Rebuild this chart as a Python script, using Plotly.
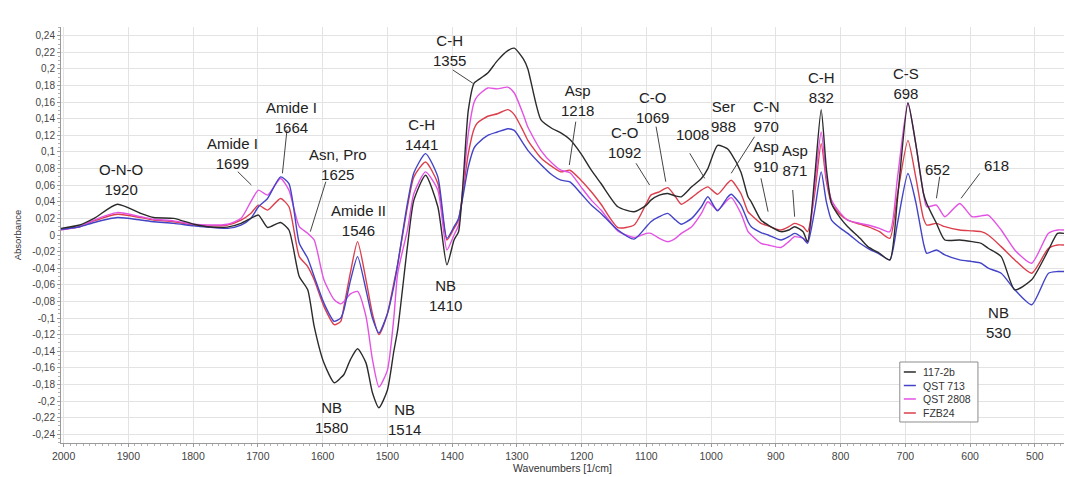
import plotly.graph_objects as go

# ---------------- data ----------------
wavenumber = [2004, 1975, 1953, 1917, 1881, 1861, 1830, 1799, 1778, 1747,
              1726, 1711, 1699, 1685, 1665, 1652, 1636, 1623, 1613, 1598,
              1582, 1572, 1567, 1557, 1546, 1533, 1523, 1513, 1500, 1490,
              1484, 1469, 1459, 1441, 1422, 1408, 1397, 1390, 1375, 1366,
              1361, 1345, 1330, 1314, 1304, 1290, 1283, 1263, 1245, 1232,
              1218, 1201, 1185, 1170, 1144, 1119, 1100, 1093, 1080, 1067,
              1055, 1046, 1030, 1015, 1005, 990, 975, 969, 954, 943,
              938, 923, 912, 892, 880, 871, 858, 851, 840, 830,
              822, 814, 800, 789, 770, 758, 740, 724, 712, 696,
              684, 672, 667, 652, 639, 616, 597, 583, 572, 552,
              531, 505, 479, 465, 455]

abs_117_2b = [0.008, 0.012, 0.020, 0.037, 0.026, 0.021, 0.020, 0.013, 0.010, 0.0095,
              0.014, 0.020, 0.024, 0.009, 0.015, 0.006, -0.050, -0.066, -0.110, -0.154,
              -0.178, -0.172, -0.168, -0.150, -0.137, -0.154, -0.190, -0.208, -0.187, -0.140,
              -0.114, -0.014, 0.042, 0.072, 0.034, -0.036, -0.006, 0.004, 0.150, 0.183,
              0.186, 0.195, 0.210, 0.222, 0.225, 0.212, 0.200, 0.139, 0.128, 0.123,
              0.115, 0.098, 0.078, 0.062, 0.034, 0.028, 0.036, 0.042, 0.048, 0.050,
              0.047, 0.046, 0.058, 0.068, 0.080, 0.108, 0.104, 0.098, 0.076, 0.046,
              0.040, 0.018, 0.012, 0.004, 0.006, 0.010, 0.004, -0.008, 0.070, 0.151,
              0.080, 0.038, 0.020, 0.010, -0.004, -0.014, -0.022, -0.030, 0.045, 0.159,
              0.110, 0.050, 0.038, 0.014, -0.006, -0.006, -0.008, -0.010, -0.016, -0.026,
              -0.066, -0.054, -0.018, 0.002, 0.002]

abs_qst_713 = [0.007, 0.010, 0.015, 0.021, 0.018, 0.016, 0.014, 0.011, 0.0095, 0.008,
               0.012, 0.020, 0.034, 0.044, 0.070, 0.062, -0.010, -0.028, -0.050, -0.082,
               -0.104, -0.100, -0.090, -0.055, -0.026, -0.066, -0.100, -0.118, -0.095, -0.062,
               -0.035, 0.038, 0.075, 0.098, 0.070, -0.004, 0.010, 0.020, 0.082, 0.105,
               0.110, 0.120, 0.124, 0.128, 0.126, 0.110, 0.102, 0.085, 0.072, 0.066,
               0.064, 0.050, 0.036, 0.026, 0.006, -0.005, 0.010, 0.016, 0.022, 0.026,
               0.018, 0.013, 0.020, 0.034, 0.046, 0.029, 0.045, 0.049, 0.036, 0.016,
               0.010, 0.003, 0.000, -0.006, -0.002, 0.002, -0.004, -0.010, 0.030, 0.076,
               0.040, 0.018, 0.008, 0.002, -0.010, -0.016, -0.023, -0.030, 0.015, 0.074,
               0.040, -0.010, -0.022, -0.018, -0.024, -0.030, -0.032, -0.034, -0.040, -0.046,
               -0.066, -0.084, -0.046, -0.044, -0.044]

abs_qst_2808 = [0.006, 0.010, 0.018, 0.027, 0.022, 0.019, 0.017, 0.013, 0.012, 0.013,
                0.020, 0.040, 0.054, 0.048, 0.068, 0.054, 0.010, 0.002, -0.006, -0.054,
                -0.078, -0.083, -0.080, -0.071, -0.068, -0.098, -0.150, -0.183, -0.163, -0.100,
                -0.046, 0.006, 0.050, 0.076, 0.054, -0.018, 0.000, 0.012, 0.122, 0.160,
                0.167, 0.177, 0.176, 0.178, 0.171, 0.145, 0.130, 0.102, 0.086, 0.078,
                0.075, 0.058, 0.042, 0.030, 0.005, -0.003, 0.002, 0.002, -0.004, -0.008,
                -0.004, 0.002, 0.010, 0.026, 0.040, 0.030, 0.042, 0.045, 0.026, 0.004,
                0.000, -0.010, -0.012, -0.015, -0.008, -0.002, -0.004, -0.008, 0.060, 0.124,
                0.070, 0.042, 0.026, 0.018, 0.014, 0.012, 0.008, 0.004, 0.070, 0.159,
                0.110, 0.050, 0.034, 0.036, 0.022, 0.038, 0.022, 0.023, 0.024, 0.006,
                -0.018, -0.034, 0.002, 0.006, 0.006]

abs_fzb24 = [0.007, 0.010, 0.017, 0.025, 0.021, 0.018, 0.016, 0.012, 0.011, 0.012,
             0.018, 0.026, 0.036, 0.030, 0.044, 0.034, -0.026, -0.038, -0.054, -0.086,
             -0.108, -0.104, -0.086, -0.045, -0.008, -0.054, -0.095, -0.120, -0.095, -0.058,
             -0.035, 0.034, 0.070, 0.088, 0.062, -0.006, 0.008, 0.018, 0.098, 0.128,
             0.135, 0.143, 0.146, 0.151, 0.145, 0.125, 0.114, 0.093, 0.082, 0.076,
             0.078, 0.066, 0.052, 0.037, 0.009, 0.012, 0.038, 0.048, 0.052, 0.057,
             0.046, 0.037, 0.045, 0.054, 0.058, 0.049, 0.062, 0.066, 0.050, 0.028,
             0.024, 0.014, 0.011, 0.006, 0.010, 0.014, 0.010, 0.004, 0.050, 0.110,
             0.065, 0.038, 0.024, 0.018, 0.013, 0.010, 0.004, -0.004, 0.050, 0.114,
             0.070, 0.020, 0.012, 0.014, 0.010, 0.006, 0.005, 0.004, 0.000, -0.014,
             -0.030, -0.046, -0.016, -0.012, -0.012]

series_names = ["117-2b", "QST 713", "QST 2808", "FZB24"]

x_tick_values = [2000, 1900, 1800, 1700, 1600, 1500, 1400, 1300, 1200, 1100,
                 1000, 900, 800, 700, 600, 500]
x_tick_labels = [str(v) for v in x_tick_values]
y_tick_values = [0.24, 0.22, 0.2, 0.18, 0.16, 0.14, 0.12, 0.1, 0.08, 0.06, 0.04, 0.02, 0,
                 -0.02, -0.04, -0.06, -0.08, -0.1, -0.12, -0.14, -0.16, -0.18, -0.2, -0.22, -0.24]
y_tick_labels = ["0,24", "0,22", "0,2", "0,18", "0,16", "0,14", "0,12", "0,1", "0,08", "0,06",
                 "0,04", "0,02", "0", "-0,02", "-0,04", "-0,06", "-0,08", "-0,1", "-0,12",
                 "-0,14", "-0,16", "-0,18", "-0,2", "-0,22", "-0,24"]

# peak labels: (text, wavenumber, absorbance) for the text block centre
peak_labels = [
    ("O-N-O<br>1920", 1912, 0.0669),
    ("Amide I<br>1699", 1739, 0.0976),
    ("Amide I<br>1664", 1648, 0.1416),
    ("Asn, Pro<br>1625", 1576, 0.0855),
    ("Amide II<br>1546", 1544, 0.0175),
    ("NB<br>1580", 1587, -0.2199),
    ("NB<br>1514", 1474, -0.2217),
    ("C-H<br>1441", 1447, 0.1205),
    ("NB<br>1410", 1410, -0.0729),
    ("C-H<br>1355", 1404, 0.2217),
    ("C-H<br>1314", 1306, 0.2542),
    ("Asp<br>1218", 1206, 0.1614),
    ("C-O<br>1069", 1090, 0.1536),
    ("C-O<br>1092", 1134, 0.1114),
    ("1008", 1029, 0.1205),
    ("Ser<br>988", 981, 0.1422),
    ("C-N<br>970", 915, 0.1422),
    ("Asp<br>910", 915, 0.0940),
    ("Asp<br>871", 870, 0.0892),
    ("C-H<br>832", 830, 0.1771),
    ("C-S<br>698", 699, 0.1819),
    ("652", 651, 0.0783),
    ("618", 560, 0.0843),
    ("NB<br>530", 556, -0.1048),
]

# leader lines: (wn0, abs0, wn1, abs1)
leader_lines = [
    (1731, 0.0763, 1710, 0.0602),
    (1655, 0.1265, 1662, 0.0743),
    (1595, 0.0642, 1619, 0.0040),
    (1399, 0.1988, 1368, 0.1828),
    (1209, 0.1365, 1219, 0.0843),
    (1085, 0.1305, 1070, 0.0642),
    (1116, 0.0864, 1095, 0.0602),
    (1033, 0.0984, 1010, 0.0683),
    (933, 0.1184, 969, 0.0743),
    (923, 0.0683, 912, 0.0281),
    (874, 0.0542, 871, 0.0220),
    (647, 0.0702, 652, 0.0442),
    (585, 0.0743, 614, 0.0442),
]

# ---------------- styling ----------------
colors = ["#2b2b2b", "#4343c8", "#e352e3", "#dc3f4c"]
FONT = "Liberation Sans, Arial, sans-serif"

fig = go.Figure()
series = [abs_117_2b, abs_qst_713, abs_qst_2808, abs_fzb24]
draw_order = [3, 2, 1, 0]
for i in draw_order:
    fig.add_trace(go.Scatter(
        x=wavenumber, y=series[i], name=series_names[i], mode="lines",
        line=dict(color=colors[i], width=1.4, shape="spline", smoothing=0.6),
        showlegend=False,
    ))

for text, xw, ya in peak_labels:
    fig.add_annotation(x=xw, y=ya, xref="x", yref="y", text=text, showarrow=False,
                       font=dict(family=FONT, size=15, color="#222222"),
                       xanchor="center", yanchor="middle")

for x0, y0, x1, y1 in leader_lines:
    fig.add_shape(type="line", xref="x", yref="y", x0=x0, y0=y0, x1=x1, y1=y1,
                  line=dict(color="#444444", width=1))

# compact legend box (bottom right)
lx0, lx1, ly0, ly1 = 0.8363, 0.9142, 0.0505, 0.1947
fig.add_shape(type="rect", xref="paper", yref="paper", x0=lx0, x1=lx1, y0=ly0, y1=ly1,
              line=dict(color="#8c8c8c", width=1), fillcolor="white", layer="above")
entry_y = [0.1707, 0.1382, 0.1058, 0.0721]
for i, name in enumerate(series_names):
    fig.add_shape(type="line", xref="paper", yref="paper", x0=0.8403, x1=0.8523,
                  y0=entry_y[i], y1=entry_y[i], line=dict(color=colors[i], width=1.5),
                  layer="above")
    fig.add_annotation(x=0.8573, y=entry_y[i], xref="paper", yref="paper", text=name,
                       showarrow=False, xanchor="left", yanchor="middle",
                       font=dict(family=FONT, size=10.5, color="#333333"))

fig.update_layout(
    width=1065, height=477,
    margin=dict(l=61, r=1, t=27, b=34),
    plot_bgcolor="white", paper_bgcolor="white",
    font=dict(family=FONT, color="#444444"),
    showlegend=False,
)
fig.update_xaxes(
    range=[2004, 455], tickvals=x_tick_values, ticktext=x_tick_labels,
    tickfont=dict(size=10.5, color="#444444"),
    showgrid=True, gridcolor="#e3e3e3", gridwidth=1,
    showline=True, linecolor="#9a9a9a", linewidth=1,
    ticks="outside", ticklen=3, tickcolor="#9a9a9a",
    minor=dict(dtick=10, ticklen=2, ticks="outside", tickcolor="#b0b0b0", showgrid=False),
    zeroline=False,
    title=dict(text="Wavenumbers [1/cm]", font=dict(size=10.5, color="#333333"), standoff=2),
)
fig.update_yaxes(
    range=[-0.2505, 0.2505], tickvals=y_tick_values, ticktext=y_tick_labels,
    tickfont=dict(size=10, color="#444444"),
    showgrid=True, gridcolor="#e3e3e3", gridwidth=1,
    showline=True, linecolor="#9a9a9a", linewidth=1,
    ticks="outside", ticklen=3, tickcolor="#9a9a9a",
    minor=dict(dtick=0.005, ticklen=2, ticks="outside", tickcolor="#b0b0b0", showgrid=False),
    zeroline=False,
    title=dict(text="Absorbance", font=dict(size=9.5, color="#333333"), standoff=8),
)

fig.write_html("out.html", config={"displayModeBar": False},
               post_script="document.body.style.margin='0px';")
